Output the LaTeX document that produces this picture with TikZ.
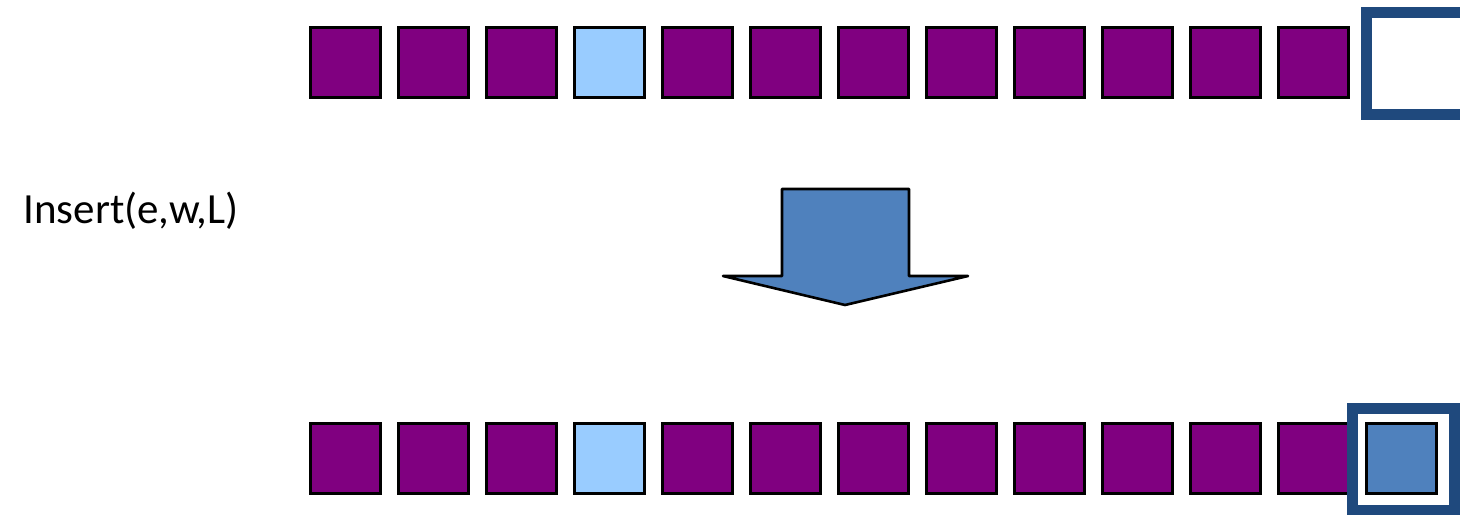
\documentclass[tikz,border=0pt]{standalone}
\usepackage{fontspec}
\setmainfont{Carlito}
\usepackage{tikz}
\usetikzlibrary{positioning, calc}
\usepackage{xcolor}
\definecolor{cellpurple}{HTML}{800080}
\definecolor{celllight}{HTML}{99CCFF}
\definecolor{cellblue}{HTML}{4F81BD}
\definecolor{framedark}{HTML}{1F497D}

\begin{document}
\begin{tikzpicture}[
    x=0.5pt, y=-0.5pt,
    cell/.style={rectangle, draw=black, line width=1.3pt, minimum size=35pt, inner sep=0pt, fill=cellpurple},
    marked/.style={cell, fill=celllight},
    newcell/.style={cell, fill=cellblue},
    slot/.style={rectangle, draw=framedark, line width=5.5pt, minimum width=51pt, minimum height=51pt, inner sep=0pt},
    label/.style={font=\fontsize{21.5pt}{26pt}\selectfont, inner sep=0pt}
]
\clip (0,0) rectangle (1460,514);
\fill[white] (0,0) rectangle (1460,514);

% list before
\node[cell] (a1) at (345.5,62.5) {};
\node[cell] (a2) at (433.5,62.5) {};
\node[cell] (a3) at (521.5,62.5) {};
\node[marked] (a4) at (609.5,62.5) {};
\node[cell] (a5) at (697.5,62.5) {};
\node[cell] (a6) at (785.5,62.5) {};
\node[cell] (a7) at (873.5,62.5) {};
\node[cell] (a8) at (961.5,62.5) {};
\node[cell] (a9) at (1049.5,62.5) {};
\node[cell] (a10) at (1137.5,62.5) {};
\node[cell] (a11) at (1225.5,62.5) {};
\node[cell] (a12) at (1313.5,62.5) {};
\node[slot] (free) at (1417.5,63.5) {};

% operation
\node[label, anchor=base west] (op) at (23,223) {Insert(e,w,L)};
\draw[line width=1.3pt, fill=cellblue, line join=round]
    (782,189) -- (909,189) -- (909,276) -- (968,276) -- (845,305)
    -- (723,276) -- (782,276) -- cycle;

% list after
\node[cell] (b1) at (345.5,458.5) {};
\node[cell] (b2) at (433.5,458.5) {};
\node[cell] (b3) at (521.5,458.5) {};
\node[marked] (b4) at (609.5,458.5) {};
\node[cell] (b5) at (697.5,458.5) {};
\node[cell] (b6) at (785.5,458.5) {};
\node[cell] (b7) at (873.5,458.5) {};
\node[cell] (b8) at (961.5,458.5) {};
\node[cell] (b9) at (1049.5,458.5) {};
\node[cell] (b10) at (1137.5,458.5) {};
\node[cell] (b11) at (1225.5,458.5) {};
\node[cell] (b12) at (1313.5,458.5) {};
\node[slot] (filled) at (1403,459.5) {};
\node[newcell] (b13) at (1401.5,458.5) {};
\end{tikzpicture}
\end{document}
